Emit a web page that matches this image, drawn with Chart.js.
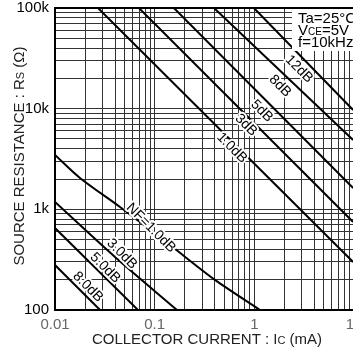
<!DOCTYPE html>
<html>
<head>
<meta charset="utf-8">
<script src="https://cdn.jsdelivr.net/npm/chart.js@4"></script>
<style>
  html, body { margin: 0; padding: 0; overflow: hidden; background: #fff; width: 353px; height: 356px; }
  #wrap { width: 372px; height: 356px; }
</style>
</head>
<body>
<div id="wrap"><canvas id="c" width="372" height="356"></canvas></div>
<script>
// Axis decades and their labels
const currentDecades = [0.01, 0.1, 1, 10];
const currentLabels = ['0.01', '0.1', '1', '10'];
const resistanceDecades = [100, 1000, 10000, 100000];
const resistanceLabels = ['100', '1k', '10k', '100k'];

// Noise-figure contours, upper group (straight lines)
const nf1Current = [0.027, 9.8];   const nf1Res = [100000, 300];
const nf3Current = [0.0696, 9.8];  const nf3Res = [100000, 748];
const nf5Current = [0.156, 9.8];   const nf5Res = [100000, 1630];
const nf8Current = [0.394, 9.8];   const nf8Res = [100000, 4885];
const nf12Current = [0.99, 9.8];   const nf12Res = [100000, 9700];

// Noise-figure contours, lower group (curved)
const lowNf1Current = [0.01, 0.0178, 0.0449, 0.1425, 0.403, 1.14];
const lowNf1Res     = [3470, 2050, 1055, 442, 199, 100];
const lowNf3Current = [0.01, 0.04, 0.1675];
const lowNf3Res     = [1183, 336, 100];
const lowNf5Current = [0.01, 0.068];
const lowNf5Res     = [652, 100];
const lowNf8Current = [0.01, 0.0283];
const lowNf8Res     = [280, 100];

// Curve labels: text, anchor current, anchor resistance
const labelTexts    = ['12dB', '8dB', '5dB', '3dB', '1.0dB', 'NF=1.0dB', '3.0dB', '5.0dB', '8.0dB'];
const labelCurrents = [2.81, 1.81, 1.19, 0.825, 0.597, 0.0919, 0.047, 0.0318, 0.0214];
const labelRes      = [24770, 16800, 9480, 6885, 4068, 652, 360, 261, 169];

const toPoints = (xs, ys) => xs.map((x, i) => ({ x, y: ys[i] }));

function decadeTicks(decades) {
  const out = [];
  decades.forEach((d, i) => {
    const last = i === decades.length - 1;
    for (let m = 1; m <= (last ? 1 : 9); m++) out.push({ value: d * m });
  });
  return out;
}
function isDecade(v, decades) {
  return decades.findIndex(d => Math.abs(Math.log10(v) - Math.log10(d)) < 1e-6);
}

const FONT = '"Liberation Sans", Arial, sans-serif';

const line = (pts, tension) => ({
  data: pts, borderColor: '#000', borderWidth: 2, pointRadius: 0,
  fill: false, tension: tension || 0
});

const decorations = {
  id: 'decorations',
  afterDatasetsDraw(chart) {
    const { ctx, chartArea: a, scales: { x, y } } = chart;
    ctx.save();
    // condition box
    const bx = 292, by = a.top + 1;
    ctx.fillStyle = '#fff';
    ctx.fillRect(bx, by, 80, 42);
    ctx.textAlign = 'left';
    ctx.textBaseline = 'alphabetic';
    ctx.fillStyle = '#000';
    ctx.font = '15px ' + FONT;
    ctx.fillText('Ta=25°C', 298, 23);
    ctx.fillText('V', 298, 35);
    let w = ctx.measureText('V').width;
    ctx.font = '10px ' + FONT;
    ctx.fillText('CE', 298 + w, 35);
    w += ctx.measureText('CE').width;
    ctx.font = '15px ' + FONT;
    ctx.fillText('=5V', 298 + w, 35);
    ctx.fillText('f=10kHz', 298, 47);

    // curve labels
    ctx.font = '14px ' + FONT;
    ctx.textAlign = 'center';
    ctx.textBaseline = 'middle';
    labelTexts.forEach((t, i) => {
      const px = x.getPixelForValue(labelCurrents[i]);
      const py = y.getPixelForValue(labelRes[i]);
      ctx.save();
      ctx.translate(px, py);
      ctx.rotate(Math.PI / 4);
      ctx.lineWidth = 4;
      ctx.strokeStyle = '#fff';
      ctx.lineJoin = 'round';
      ctx.strokeText(t, 0, 0);
      ctx.fillStyle = '#000';
      ctx.fillText(t, 0, 0);
      ctx.restore();
    });

    // frame
    ctx.strokeStyle = '#000';
    ctx.lineWidth = 2;
    ctx.strokeRect(a.left, a.top, a.right - a.left, a.bottom - a.top);

    // axis titles
    ctx.fillStyle = '#222';
    const xParts = [['COLLECTOR CURRENT : I', 15], ['C', 11], [' (mA)', 15]];
    drawParts(ctx, xParts, 207, 344, 0);
    const yParts = [['SOURCE RESISTANCE : R', 15], ['S', 11], [' (Ω)', 15]];
    drawParts(ctx, yParts, 24, 156, -Math.PI / 2);
    ctx.restore();
  }
};

function drawParts(ctx, parts, cx, cy, rot) {
  let total = 0;
  parts.forEach(([t, s]) => { ctx.font = s + 'px ' + FONT; total += ctx.measureText(t).width; });
  ctx.save();
  ctx.translate(cx, cy);
  ctx.rotate(rot);
  ctx.textAlign = 'left';
  ctx.textBaseline = 'alphabetic';
  let xx = -total / 2;
  parts.forEach(([t, s]) => {
    ctx.font = s + 'px ' + FONT;
    ctx.fillText(t, xx, 0);
    xx += ctx.measureText(t).width;
  });
  ctx.restore();
}

new Chart(document.getElementById('c'), {
  type: 'line',
  data: {
    datasets: [
      line(toPoints(nf1Current, nf1Res)),
      line(toPoints(nf3Current, nf3Res)),
      line(toPoints(nf5Current, nf5Res)),
      line(toPoints(nf8Current, nf8Res)),
      line(toPoints(nf12Current, nf12Res)),
      line(toPoints(lowNf1Current, lowNf1Res), 0.3),
      line(toPoints(lowNf3Current, lowNf3Res), 0.3),
      line(toPoints(lowNf5Current, lowNf5Res)),
      line(toPoints(lowNf8Current, lowNf8Res))
    ]
  },
  options: {
    responsive: false,
    animation: false,
    layout: { padding: { left: 0, right: 18, top: 8, bottom: 0 } },
    plugins: { legend: { display: false }, tooltip: { enabled: false } },
    scales: {
      x: {
        type: 'logarithmic', min: 0.01, max: 10,
        afterBuildTicks: s => { s.ticks = decadeTicks(currentDecades); },
        afterFit: s => { s.height = 46; s.paddingLeft = 0; s.paddingRight = 0; },
        border: { display: false },
        grid: { color: '#333', lineWidth: 1, drawTicks: false },
        ticks: {
          autoSkip: false, maxRotation: 0, padding: 6, color: '#666',
          font: { family: FONT, size: 15 },
          callback: v => { const i = isDecade(v, currentDecades); return i >= 0 ? currentLabels[i] : ''; }
        }
      },
      y: {
        type: 'logarithmic', min: 100, max: 100000,
        afterBuildTicks: s => { s.ticks = decadeTicks(resistanceDecades); },
        afterFit: s => { s.width = 55; s.paddingTop = 0; s.paddingBottom = 0; },
        border: { display: false },
        grid: { color: '#333', lineWidth: 1, drawTicks: false },
        ticks: {
          autoSkip: false, padding: 6, color: '#000',
          font: { family: FONT, size: 15 },
          callback: v => { const i = isDecade(v, resistanceDecades); return i >= 0 ? resistanceLabels[i] : ''; }
        }
      }
    }
  },
  plugins: [decorations]
});
</script>
</body>
</html>
